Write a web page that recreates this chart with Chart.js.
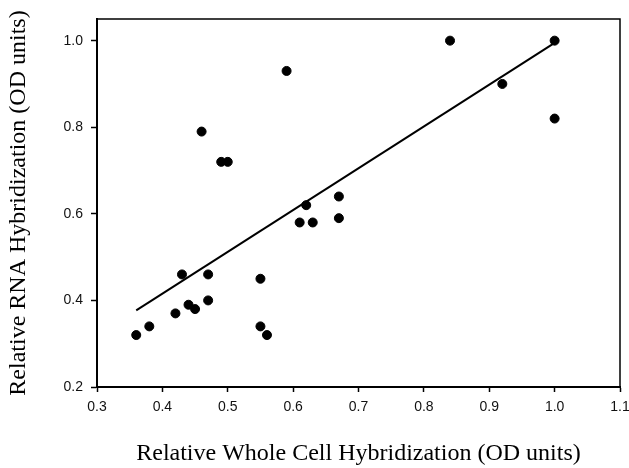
<!DOCTYPE html>
<html lang="en">

<head>
    <meta charset="UTF-8">
    <title>RNA vs whole cell hybridization</title>
    <script src="https://cdn.jsdelivr.net/npm/chart.js"></script>
    <style>
        body { margin: 0; background: #fff; }
        #grafico { display: block; }
    </style>
</head>

<body>
    <canvas id="grafico" width="629" height="468"></canvas>

<script>
    // dados
    const wholeCell = [0.36, 0.38, 0.42, 0.43, 0.44, 0.45, 0.46, 0.47, 0.47, 0.49, 0.50, 0.55, 0.55, 0.56, 0.59, 0.61, 0.62, 0.63, 0.67, 0.67, 0.84, 0.92, 1.00, 1.00];
    const rnaHyb    = [0.32, 0.34, 0.37, 0.46, 0.39, 0.38, 0.79, 0.46, 0.40, 0.72, 0.72, 0.45, 0.34, 0.32, 0.93, 0.58, 0.62, 0.58, 0.64, 0.59, 1.00, 0.90, 1.00, 0.82];

    // reta de regressão (extremos)
    const fitX = [0.36, 1.00];
    const fitY = [0.377, 0.995];

    const xTicks = [0.3, 0.4, 0.5, 0.6, 0.7, 0.8, 0.9, 1.0, 1.1];
    const yTicks = [0.2, 0.4, 0.6, 0.8, 1.0];

    const xTitle = 'Relative Whole Cell Hybridization (OD units)';
    const yTitle = 'Relative RNA Hybridization (OD units)';

    const pontos = wholeCell.map((x, i) => ({ x: x, y: rnaHyb[i] }));
    const reta = fitX.map((x, i) => ({ x: x, y: fitY[i] }));

    // moldura em volta da área do gráfico
    const moldura = {
        id: 'moldura',
        afterDraw(chart) {
            const a = chart.chartArea;
            const ctx = chart.ctx;
            ctx.save();
            ctx.strokeStyle = '#000';
            ctx.lineWidth = 1.5;
            ctx.beginPath();
            ctx.moveTo(a.left, a.top);
            ctx.lineTo(a.right, a.top);
            ctx.lineTo(a.right, a.bottom);
            ctx.stroke();
            ctx.restore();
        }
    };

    const fonteTick = { family: 'Liberation Sans', size: 14 };
    const fonteTitulo = { family: 'Liberation Serif', size: 24 };

    new Chart(document.getElementById('grafico'), {
        type: 'scatter',
        data: {
            datasets: [{
                data: pontos,
                backgroundColor: '#000',
                borderColor: '#000',
                pointRadius: 4.5,
                pointHoverRadius: 4.5
            }, {
                data: reta,
                showLine: true,
                borderColor: '#000',
                borderWidth: 2,
                pointRadius: 0,
                fill: false
            }]
        },
        options: {
            responsive: false,
            animation: false,
            events: [],
            layout: { padding: { top: 19, right: 9, left: 0, bottom: 0 } },
            plugins: {
                legend: { display: false },
                tooltip: { enabled: false }
            },
            scales: {
                x: {
                    type: 'linear',
                    min: 0.3,
                    max: 1.1,
                    afterBuildTicks: s => { s.ticks = xTicks.map(v => ({ value: v })); },
                    afterFit: s => {
                        s.height = 81;
                        s.paddingLeft = 0;
                        s.paddingRight = 0;
                    },
                    ticks: {
                        color: '#111',
                        font: fonteTick,
                        padding: 7,
                        maxRotation: 0,
                        callback: v => Number(v).toFixed(1)
                    },
                    grid: {
                        drawOnChartArea: false,
                        drawTicks: true,
                        tickLength: 5,
                        tickColor: '#000',
                        tickWidth: 1.5
                    },
                    border: { display: true, color: '#000', width: 2 },
                    title: {
                        display: true,
                        text: xTitle,
                        color: '#000',
                        font: fonteTitulo,
                        padding: { top: 0, bottom: 0 }
                    }
                },
                y: {
                    type: 'linear',
                    min: 0.2,
                    max: 1.05,
                    afterBuildTicks: s => { s.ticks = yTicks.map(v => ({ value: v })); },
                    afterFit: s => {
                        s.width = 97;
                        s.paddingTop = 0;
                        s.paddingBottom = 0;
                    },
                    ticks: {
                        color: '#111',
                        font: fonteTick,
                        padding: 8,
                        callback: v => Number(v).toFixed(1)
                    },
                    grid: {
                        drawOnChartArea: false,
                        drawTicks: true,
                        tickLength: 6,
                        tickColor: '#000',
                        tickWidth: 1.5
                    },
                    border: { display: true, color: '#000', width: 2 },
                    title: {
                        display: true,
                        text: yTitle,
                        color: '#000',
                        font: fonteTitulo,
                        padding: { top: 4, bottom: 0 }
                    }
                }
            }
        },
        plugins: [moldura]
    });
</script>
</body>

</html>
